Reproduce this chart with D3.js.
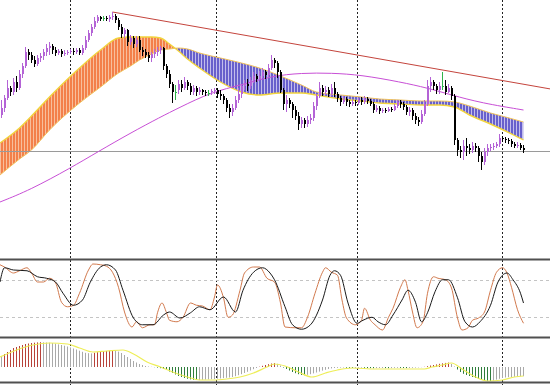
<!DOCTYPE html>
<html><head><meta charset="utf-8">
<script src="https://cdn.jsdelivr.net/npm/d3@7"></script>
<style>body{margin:0;background:#fff}svg{display:block}</style>
</head><body>
<svg width="550" height="385"></svg>
<script>
// candles (one per bar, bar 0 at the left)
let open = [145,152,162,172,168,178,172,186,194,208,205,200,196,202,204,208,212,214,210,207,209,206,207,208,209,208,210,207,212,220,
  227,233,239,243,242,242,241,243,244,240,233,226,230,218,222,216,220,210,208,205,202,206,208,210,212,194,186,176,168,170,
  176,172,178,174,168,172,168,170,168,167,168,169,170,166,164,160,152,148,152,160,166,174,176,174,180,184,181,184,188,185,
  192,200,197,188,170,156,160,156,150,144,136,140,136,140,142,154,164,172,168,170,166,172,166,162,158,161,158,156,158,157,
  160,158,161,159,156,150,152,149,150,149,151,150,154,158,156,153,148,150,144,140,138,146,156,174,178,174,170,174,174,168,
  172,164,120,110,108,114,112,110,114,112,104,98,108,112,113,114,116,122,121,120,119,116,114,115,112];
let high = [160,165,180,174,182,184,190,197,213,211,208,204,205,207,211,216,218,216,213,211,211,210,210,211,212,212,212,215,224,230,
  236,243,245,244,244,244,245,248,246,242,236,232,231,225,224,224,224,213,211,208,208,211,213,214,213,196,190,178,175,180,
  180,183,180,177,175,174,173,171,170,170,171,172,172,170,166,162,156,156,164,172,176,180,181,183,188,186,189,192,190,196,
  205,202,199,190,172,165,162,158,154,148,143,142,144,146,158,166,178,175,174,173,176,178,168,164,164,163,160,160,160,162,
  163,164,163,161,158,155,154,152,152,153,153,156,160,160,158,155,153,152,147,143,150,160,180,183,180,176,178,188,180,176,
  174,166,122,114,120,122,116,118,117,114,108,112,116,116,117,118,126,124,123,122,121,118,118,117,115];
let low = [142,148,160,164,165,168,170,182,192,200,197,193,194,198,200,204,205,206,204,205,203,204,205,206,205,206,205,205,210,218,
  224,231,237,239,239,239,238,240,237,230,222,222,214,215,212,213,208,204,202,198,198,202,204,206,190,182,172,157,160,166,
  168,170,170,165,165,164,165,165,164,164,165,166,162,160,156,148,142,144,150,157,162,170,169,171,177,178,180,182,181,182,
  190,192,182,167,150,148,152,142,140,130,132,132,133,136,139,150,162,164,165,163,164,163,158,154,156,154,153,154,154,155,
  155,156,156,154,147,148,146,147,147,148,148,149,152,152,150,145,144,140,136,134,136,144,154,168,170,166,166,170,165,167,
  160,115,104,102,100,104,106,107,108,98,90,95,104,109,110,112,113,118,117,116,113,112,112,110,107];
let close = [152,162,172,168,178,172,186,194,208,205,200,196,202,204,208,212,214,210,207,209,206,207,208,209,208,210,207,212,220,227,
  233,239,243,241,242,241,243,244,240,233,226,230,218,222,216,220,210,208,205,202,206,208,210,212,194,186,176,168,168,176,
  172,178,174,168,172,168,170,168,167,167,169,170,166,164,160,152,148,152,160,166,174,176,174,180,184,181,184,188,185,192,
  200,197,188,170,156,160,156,150,144,136,140,136,140,142,154,164,172,168,170,166,172,166,162,158,161,158,156,158,157,160,
  158,161,159,156,150,152,149,150,149,151,150,154,158,156,153,148,150,144,140,138,146,156,174,178,174,170,174,174,168,172,
  164,120,110,108,114,112,110,114,112,104,98,108,112,113,114,116,122,121,120,119,116,114,115,112,110];

// cloud lines (bar, fast, slow)
let cloudBar = [-0.5,6,10,16,26,33,39,43,46,50,53,56,59,62,66,73,80,86,93,100,105,113,120,126,133,140,146,151,156,163,168,174];
let cloudFast = [117,132,144,163,192,210,222,223,223,223,222,216,209,201,192,178,168,165,167,167,165,161,159,157,156,155,155,153,145,136,129,120];
let cloudSlow = [85,101,110,130,157,173,187,194,200,206,210,211,212,211,207,202,197,192,184,175,168,165,163,161,160,159,159,158,154,147,143,138];

// moving average
let maBar = [-0.5,9.5,23,32,43,53,59,70,80,90,100,110,120,133,142,150,160,174];
let maVal = [58,70,92,108,127,143,152,168,175,184,187,187,185,178,172,165,157,150];

// trend line anchors, horizontal level, period separators
let trendBar = [37,147];
let trendVal = [248,190];
let priceLevel = [109];
let separators = [22.8,71.5,118.5,166.8];

// stochastic
let kBar = [-0.5,1,4,6,8.5,10,12,14,16,18,20,22,24,26,29,30.5,33,35,37,39,41,43.5,45,47,49.5,51,52,53.5,55,56,58.5,60.5,63,65,67,69.5,71,72,74,75.5,77,79.5,81,84,86,88.5,
  91,93,94.5,98,100,102,104.5,107,108,110,112,113.5,115,118,120,121,123,124.5,127,129,130.5,133,134.5,135.5,137,138.5,140.5,142,144,145.5,148,150,152,153.5,155.5,157,159,161,163,165,167,168.5,170,172,174];
let kVal = [95,92,84,87,91,84,72,72,77,71,45,39,41,57,88,96,95,93,85,65,32,12,19,11,15,15,31,44,31,21,19,25,44,41,40,35,52,68,51,25,28,61,84,92,92,77,
  72,44,12,11,11,25,57,85,91,85,81,48,24,15,21,37,21,15,8,25,37,65,75,61,32,11,19,57,79,77,75,64,24,8,11,21,24,32,61,85,91,84,65,35,17];
let dBar = [-0.5,1,4,8.5,12,15,18,20.5,24,27,29.5,33,35,38,40.5,44,47,50.5,54,56,59.5,63,66,69.5,74,78,80.5,84,87,89.5,91,94.5,97,100,103,107,109.5,111,113,115.5,
  118.5,120.5,123.5,125.5,128,130.5,133.5,135.5,138,140,142,144.5,147,149,152,154.5,157,159.5,163,165.5,168.5,170.5,173,174];
let dVal = [72,91,88,87,79,77,72,57,41,48,71,92,95,88,61,24,15,15,28,32,24,31,39,35,52,32,61,85,91,84,75,39,15,9,15,48,81,87,81,44,
  17,21,25,19,15,28,48,61,45,19,31,59,75,75,51,19,12,19,41,72,84,75,57,44];
let stochLevels = [75,25];

// histogram + signal
let hist = [11,13,15,17,19,20,21,22,23,23.5,24,24.3,24.6,24.8,24.7,24.5,24.3,24,23.3,22.6,22,21.3,20.5,19.5,18.5,17.5,16.3,15.2,14.2,13.8,
  13.6,14.2,14.8,15.3,15.7,16,16.2,16.4,16.2,15.4,14,12,10,8,6,4.5,3,2,1,0.5,0.2,-0.2,-0.6,-1.2,-2,-3,-4.5,-6,-7.5,-9,
  -10,-11,-11.8,-12.4,-12.8,-13,-12.9,-12.8,-12.6,-12.4,-12.2,-12,-11.7,-11.4,-11.1,-10.8,-10.5,-10,-9.2,-8.2,-7.2,-6,-4.8,-3.5,-2.2,-1,0.3,1.2,2,2.8,
  3.5,4,3.2,1.5,-0.5,-2,-3.5,-5,-6.2,-7.2,-8,-8.2,-7.8,-7.2,-6.4,-5.5,-4.6,-3.6,-2.8,-2,-1.4,-1,-0.8,-0.6,-0.5,-0.7,-0.9,-1,-0.9,-0.8,
  -0.7,-0.8,-1,-1.1,-1.2,-1.1,-1,-1,-1.1,-1.2,-1.1,-0.9,-0.8,-0.9,-1,-1.1,-1,-0.8,-0.6,-0.4,-0.2,0.2,0.8,1.5,2,2.6,3.2,3.7,4.1,4.4,
  3,0.5,-2.5,-5,-6.8,-8,-9,-10,-11,-12,-12.8,-13.4,-13.8,-14,-13.6,-12.6,-11.8,-11,-10.5,-10.2,-10,-9.8,-9.6,-9.4,-9.2];
let sigBar = [-0.5,5,10.5,16,22,26,30.5,35,40.5,44,48.5,53,57,62,66,70.5,75,79.5,84,88.5,91,94.5,99,103.5,108,112,117,124.5,133,141,143.5,147,150,153.5,158,162,167,171,174];
let sigVal = [10,17,22,24,23,19,15,16,17,13,5,0,-5,-10,-13,-13,-12,-10,-6,0,3,1,-5,-10,-6,-3,-1,-2,-2,-2,0,2,4,-2,-10,-14,-13,-10,-9];

let svg = d3.select("svg"),
    width = +svg.attr("width"),
    height = +svg.attr("height");

// 3px per bar
let x = d3.scaleLinear().domain([-0.5, 182.8333]).range([0, width]);
let yP = d3.scaleLinear().domain([0, 260]).range([260, 0]);
let yS = d3.scaleLinear().domain([0, 100]).range([336, 261]);
let yH = d3.scaleLinear().domain([-14, 26]).range([381, 341]);

let defs = svg.append("defs");
function stripes(id, dark, light) {
    let p = defs.append("pattern").attr("id", id)
        .attr("patternUnits", "userSpaceOnUse").attr("width", 3).attr("height", 8);
    p.append("rect").attr("width", 3).attr("height", 8).attr("fill", light);
    p.append("rect").attr("x", 1).attr("width", 2).attr("height", 8).attr("fill", dark);
}
stripes("orangeStripes", "#f3804a", "#f8bf9c");
stripes("blueStripes", "#6860cc", "#c2bdec");

defs.append("clipPath").attr("id", "mainClip")
    .append("rect").attr("width", width).attr("height", 258);

let cloud = cloudBar.map((b, i) => ({b: b, f: cloudFast[i], s: cloudSlow[i]}));
let curve = d3.curveMonotoneX;

// clip regions below / above the fast line
defs.append("clipPath").attr("id", "belowFast").append("path")
    .attr("d", d3.area().curve(curve).x(d => x(d.b)).y0(260).y1(d => yP(d.f))(cloud));
defs.append("clipPath").attr("id", "aboveFast").append("path")
    .attr("d", d3.area().curve(curve).x(d => x(d.b)).y0(0).y1(d => yP(d.f))(cloud));

let main = svg.append("g").attr("clip-path", "url(#mainClip)");

// period separators across all panels (behind)
svg.insert("g", ":first-child").selectAll("line")
    .data(separators).enter().append("line")
    .attr("x1", d => Math.round(x(d)) + 0.5).attr("x2", d => Math.round(x(d)) + 0.5)
    .attr("y1", 0).attr("y2", height)
    .attr("stroke", "#222").attr("stroke-dasharray", "2,2");

let between = d3.area().curve(curve).x(d => x(d.b)).y0(d => yP(d.s)).y1(d => yP(d.f));
main.append("g").attr("clip-path", "url(#belowFast)")
    .append("path").attr("d", between(cloud)).attr("fill", "url(#orangeStripes)");
main.append("g").attr("clip-path", "url(#aboveFast)")
    .append("path").attr("d", between(cloud)).attr("fill", "url(#blueStripes)");

main.append("path").attr("d", d3.line().curve(curve).x(d => x(d.b)).y(d => yP(d.s))(cloud))
    .attr("fill", "none").attr("stroke", "#f0c25c").attr("stroke-width", 1);
main.append("path").attr("d", d3.line().curve(curve).x(d => x(d.b)).y(d => yP(d.f))(cloud))
    .attr("fill", "none").attr("stroke", "#f2d43c").attr("stroke-width", 1.4);

// horizontal level
main.selectAll(".level").data(priceLevel).enter().append("line")
    .attr("x1", 0).attr("x2", width)
    .attr("y1", d => Math.round(yP(d)) + 0.5).attr("y2", d => Math.round(yP(d)) + 0.5)
    .attr("stroke", "#9a9a9a");

// moving average
main.append("path")
    .attr("d", d3.line().curve(d3.curveBasis).x((d, i) => x(maBar[i])).y(d => yP(d))(maVal))
    .attr("fill", "none").attr("stroke", "#c84fd6").attr("stroke-width", 1);

// trend line, extended to the right edge
let slope = (trendVal[1] - trendVal[0]) / (trendBar[1] - trendBar[0]);
let endBar = x.domain()[1];
main.append("line")
    .attr("x1", x(trendBar[0])).attr("y1", yP(trendVal[0]))
    .attr("x2", x(endBar)).attr("y2", yP(trendVal[0] + slope * (endBar - trendBar[0])))
    .attr("stroke", "#c4443c").attr("stroke-width", 1);

// candles
let bars = open.map((o, i) => ({i: i, o: o, h: high[i], l: low[i], c: close[i]}));
function candleColor(d) {
    if (d.c > d.o) return "#b463d6";
    if (d.c < d.o) return "#000";
    return "#2fb34a";
}
let cg = main.append("g").selectAll("g").data(bars).enter().append("g");
cg.append("line")
    .attr("x1", d => x(d.i)).attr("x2", d => x(d.i))
    .attr("y1", d => yP(d.h)).attr("y2", d => yP(d.l))
    .attr("stroke", candleColor);
cg.append("rect")
    .attr("x", d => Math.floor(x(d.i)))
    .attr("width", 2)
    .attr("y", d => yP(Math.max(d.o, d.c)))
    .attr("height", d => Math.max(1, Math.abs(yP(d.o) - yP(d.c))))
    .attr("fill", candleColor);

// stochastic panel
svg.selectAll(".slevel").data(stochLevels).enter().append("line")
    .attr("x1", 0).attr("x2", width)
    .attr("y1", d => Math.round(yS(d)) + 0.5).attr("y2", d => Math.round(yS(d)) + 0.5)
    .attr("stroke", "#c4c4c4").attr("stroke-dasharray", "3,3");
svg.append("path")
    .attr("d", d3.line().curve(d3.curveMonotoneX).x((d, i) => x(kBar[i])).y(d => yS(d))(kVal))
    .attr("fill", "none").attr("stroke", "#d27a4e").attr("stroke-width", 1);
svg.append("path")
    .attr("d", d3.line().curve(d3.curveMonotoneX).x((d, i) => x(dBar[i])).y(d => yS(d))(dVal))
    .attr("fill", "none").attr("stroke", "#1a1a1a").attr("stroke-width", 1);

// histogram panel
function histColor(v, i) {
    let prev = i > 0 ? hist[i - 1] : v;
    if (v > 0 && v > prev) return "#b8423a";
    if (v < 0 && v < prev) return "#2f7d3c";
    return "#a9a9a9";
}
svg.append("g").selectAll("line").data(hist).enter().append("line")
    .attr("x1", (d, i) => x(i)).attr("x2", (d, i) => x(i))
    .attr("y1", yH(0)).attr("y2", d => yH(d))
    .attr("stroke", histColor);
svg.append("path")
    .attr("d", d3.line().curve(d3.curveMonotoneX).x((d, i) => x(sigBar[i])).y(d => yH(d))(sigVal))
    .attr("fill", "none").attr("stroke", "#eeee58").attr("stroke-width", 1.2);

// panel borders
svg.selectAll(".border").data([259.5, 337.5, 382.5]).enter().append("line")
    .attr("x1", 0).attr("x2", width).attr("y1", d => d).attr("y2", d => d)
    .attr("stroke", "#505050").attr("stroke-width", 2);
</script>
</body></html>
